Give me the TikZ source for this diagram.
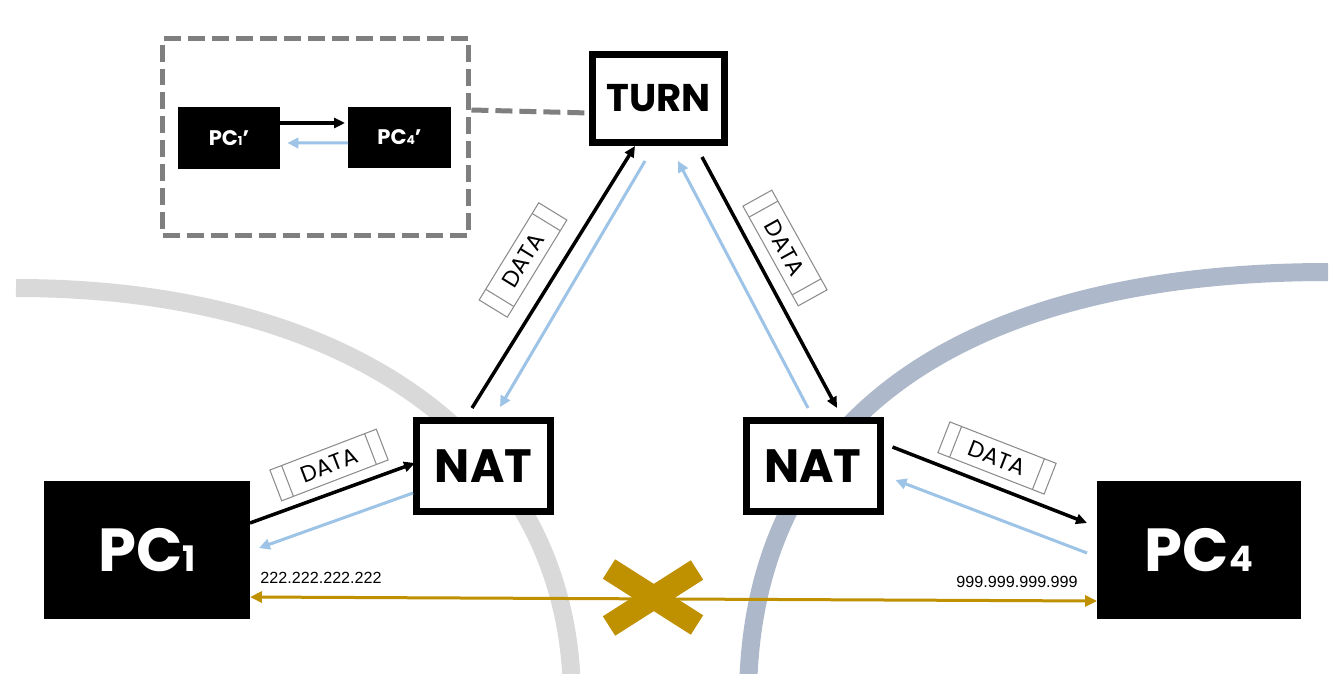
\documentclass[tikz,border=0pt]{standalone}
\usepackage{fontspec}
\usetikzlibrary{arrows.meta,calc}
\newfontfamily\popfont{Poppins}
\newfontfamily\ipfont{Liberation Sans}
\definecolor{arcgray}{HTML}{D9D9D9}
\definecolor{arcblue}{HTML}{ADB9CA}
\definecolor{lblue}{HTML}{9DC3E6}
\definecolor{goldc}{HTML}{BF9000}
\definecolor{dashgray}{HTML}{7F7F7F}
\definecolor{boxgray}{HTML}{8C8C8C}
\newcommand\mydatabox[3]{%
  \node[databox, rotate=#3] (#1) at (#2) {DATA};
  \draw[dataline] ($(#1.north west)!0.11!(#1.north east)$) -- ($(#1.south west)!0.11!(#1.south east)$);
  \draw[dataline] ($(#1.north east)!0.11!(#1.north west)$) -- ($(#1.south east)!0.11!(#1.south west)$);
}
\begin{document}
\begin{tikzpicture}[x=0.02cm,y=-0.02cm,
  pcbox/.style={fill=black, text=white, inner sep=0pt, outer sep=0pt, font=\popfont\bfseries},
  smallpc/.style={pcbox, font=\popfont\bfseries\fontsize{12}{12}\selectfont},
  framebox/.style={draw=black, fill=white, line width=0.14cm, outer sep=0.07cm, inner sep=0pt},
  natbox/.style={framebox, minimum width=2.68cm, minimum height=1.82cm,
    font=\popfont\bfseries\fontsize{26.6}{27}\selectfont},
  turnbox/.style={framebox, minimum width=2.64cm, minimum height=1.76cm,
    font=\popfont\bfseries\fontsize{22}{23}\selectfont},
  databox/.style={draw=boxgray, line width=0.6pt, inner sep=0pt, outer sep=0pt,
    minimum width=2.28cm, minimum height=0.66cm, font=\popfont\fontsize{13}{13}\selectfont},
  dataline/.style={draw=boxgray, line width=0.6pt},
  iptext/.style={inner sep=0pt, font=\ipfont\fontsize{9.2}{10}\selectfont},
  blk/.style={draw=black, line width=0.07cm, -{Triangle[length=0.22cm,width=0.2cm]}},
  blu/.style={draw=lblue, line width=0.06cm, -{Triangle[length=0.22cm,width=0.21cm]}},
  gld/.style={draw=goldc, line width=0.06cm, {Triangle[length=0.24cm,width=0.22cm]}-{Triangle[length=0.24cm,width=0.22cm]}},
  dashc/.style={draw=dashgray, line width=0.1cm, dash pattern=on 0.34cm off 0.14cm},
  bigarc/.style={line width=0.36cm}
]
\useasboundingbox (0,0) rectangle (1344,682);
\fill[white] (0,0) rectangle (1344,682);

% background arcs
\begin{scope}
  \clip (0,0) rectangle (1344,673);
  \draw[bigarc, arcgray] (16,288) .. controls (345,288) and (572,440) .. (572,700);
  \draw[bigarc, arcblue] (1328,272) .. controls (981,272) and (748,405) .. (748,700);
\end{scope}

% dashed frame with inner boxes
\node[dashc, minimum width=6.13cm, minimum height=3.94cm, inner sep=0pt, outer sep=0.05cm] (frame) at (315.75,137) {};
\node[smallpc, minimum width=2.06cm, minimum height=1.24cm] (pc1p) at (229,138) {PC{\fontsize{7}{7}\selectfont 1}’};
\node[smallpc, minimum width=2.06cm, minimum height=1.22cm] (pc4p) at (399.5,137.5) {PC{\fontsize{7}{7}\selectfont 4}’};

% main nodes
\node[turnbox] (turn) at (658.5,98.5) {TURN};
\node[natbox] (nat1) at (483.5,466) {NAT};
\node[natbox] (nat2) at (813,466) {NAT};
\node[pcbox, minimum width=4.12cm, minimum height=2.76cm] (pc1) at (147,550)
  {\fontsize{34.6}{35}\selectfont PC\fontsize{20}{20}\selectfont 1};
\node[pcbox, minimum width=4.08cm, minimum height=2.76cm] (pc4) at (1199,550)
  {\fontsize{34.6}{35}\selectfont PC\fontsize{20}{20}\selectfont 4};

% dashed connector
\draw[dashc] ($(frame.east)+(0,-27)$) -- ($(turn.west)+(0,14.5)$);

% inner arrows
\draw[blk] ($(pc1p.east)+(0,-15)$) -- ($(pc4p.west)+(-3,-14.5)$);
\draw[blu] ($(pc4p.west)+(0,5.5)$) -- ($(pc1p.east)+(7,5)$);

% main arrows
\draw[blk] ($(pc1.east)+(0,-27)$) -- ($(nat1.west)+(2,-3)$);
\draw[blu] ($(nat1.west)+(0,27)$) -- ($(pc1.east)+(9,-2)$);
\draw[blk] ($(nat1.north)+(-11.5,-9)$) -- ($(turn.south)+(-23.5,0)$);
\draw[blu] ($(turn.south)+(-13.5,15)$) -- ($(nat1.north)+(16.5,-10)$);
\draw[blu] ($(nat2.north)+(-5,-9)$) -- ($(turn.south)+(19.5,15)$);
\draw[blk] ($(turn.south)+(43.5,11)$) -- ($(nat2.north)+(24,-9)$);
\draw[blk] ($(nat2.east)+(9,-19)$) -- ($(pc4.west)+(-10,-27)$);
\draw[blu] ($(pc4.west)+(-10,3)$) -- ($(nat2.east)+(12,14)$);
\draw[gld] ($(pc1.east)+(0,47)$) -- ($(pc4.west)+(0,51)$);

% DATA packets
\mydatabox{d1}{329,465}{21}
\mydatabox{d2}{523,260}{58.5}
\mydatabox{d3}{785,248}{-61}
\mydatabox{d4}{997,458}{-21.3}

% blocked mark
\draw[goldc, line width=0.46cm] (609,569) -- (697,625) (609,626) -- (697,570);

% addresses
\node[iptext, anchor=base west] (ip1) at (260,583) {222.222.222.222};
\node[iptext, anchor=base west] (ip4) at (956,587) {999.999.999.999};
\end{tikzpicture}
\end{document}
